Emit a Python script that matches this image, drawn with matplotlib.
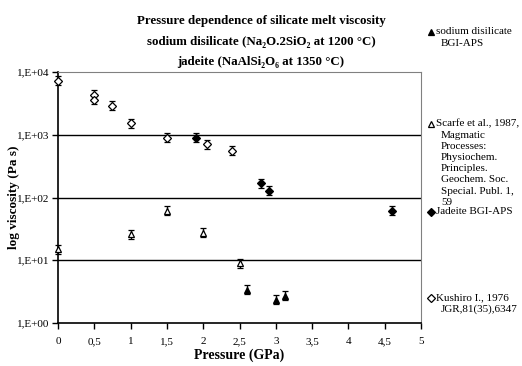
import matplotlib
matplotlib.use("Agg")
import matplotlib.pyplot as plt
from matplotlib.lines import Line2D
from matplotlib.ticker import FixedLocator, NullLocator

plt.rcParams['font.family'] = ['Liberation Serif', 'DejaVu Serif']

# Kushiro I., 1976 (open diamonds)
kushiro_p = [0, 0.5, 0.5, 0.75, 1.0, 1.5, 2.05, 2.4]
kushiro_eta = [7200, 4300, 3600, 2900, 1520, 900, 700, 560]

# Jadeite BGI-APS (filled diamonds)
jad_p = [1.9, 2.8, 2.9, 4.6]
jad_eta = [895, 168, 128, 62]

# Scarfe et al., 1987 (open triangles)
scarfe_p = [0, 1.0, 1.5, 2.0, 2.5]
scarfe_eta = [15, 26, 62, 27.5, 8.9]

# sodium disilicate BGI-APS (filled triangles)
nds_p = [2.6, 3.0, 3.12]
nds_eta = [3.4, 2.35, 2.7]

rel_err = 0.18

y_ticks = [1, 10, 100, 1000, 10000]
y_labels = ["1,E+00", "1,E+01", "1,E+02", "1,E+03", "1,E+04"]
x_ticks = [0, 0.5, 1, 1.5, 2, 2.5, 3, 3.5, 4, 4.5, 5]
x_labels = ["0", "0,5", "1", "1,5", "2", "2,5", "3", "3,5", "4", "4,5", "5"]

fig = plt.figure(figsize=(5.22, 3.66), dpi=100)
ax = fig.add_axes([58 / 522, 1 - 323 / 366, 363 / 522, 251 / 366])


def series(p, eta, marker, face):
    err = [[v * rel_err / (1 + rel_err) for v in eta], [v * rel_err for v in eta]]
    ax.errorbar(p, eta, yerr=err, fmt=marker, ms=4.2, mfc=face, mec='black',
                mew=0.9, ecolor='black', elinewidth=1, capsize=2.5, capthick=1,
                clip_on=False, zorder=3)


series(kushiro_p, kushiro_eta, 'D', 'white')
series(jad_p, jad_eta, 'D', 'black')
series(scarfe_p, scarfe_eta, '^', 'white')
series(nds_p, nds_eta, '^', 'black')

ax.set_yscale('log')
ax.set_ylim(1, 10000)
ax.set_xlim(0, 5)
ax.yaxis.set_major_locator(FixedLocator(y_ticks))
ax.yaxis.set_minor_locator(NullLocator())
ax.set_yticklabels(y_labels)
ax.set_xticks(x_ticks)
ax.set_xticklabels(x_labels)
ax.tick_params(labelsize=8, length=4, width=1, direction='out', pad=2)
ax.tick_params(axis='x', pad=6)

for v in [10, 100, 1000]:
    ax.axhline(v, color='black', lw=1, zorder=1)
ax.spines['top'].set_color('#808080')
ax.spines['right'].set_color('#808080')
ax.spines['left'].set_linewidth(1.2)
ax.spines['bottom'].set_linewidth(1.2)

ax.set_xlabel("Pressure (GPa)", fontsize=10, fontweight='bold', labelpad=2)
ax.set_ylabel("log viscosity (Pa s)", fontsize=9.5, fontweight='bold')
ax.yaxis.set_label_coords((20 - 58) / 363, 0.5)

title_lines = [
    (21, "Pressure dependence of silicate melt viscosity"),
    (42, "sodium disilicate (Na\u2082O.2SiO\u2082 at 1200 \u00b0C)"),
    (62, "jadeite (NaAlSi\u2082O\u2086 at 1350 \u00b0C)"),
]
for ypx, t in title_lines:
    fig.text(0.5, 1 - ypx / 366, t, ha='center', va='center', fontsize=9.3,
             fontweight='bold')

# legend entries spread down the right side
legend_items = [
    ('^', 'black', 32, ["sodium disilicate", "BGI-APS"]),
    ('^', 'white', 124, ["Scarfe et al., 1987,", "Magmatic", "Processes:", "Physiochem.",
                         "Principles.", "Geochem. Soc.", "Special. Publ. 1,", "59"]),
    ('D', 'black', 212, ["Jadeite BGI-APS"]),
    ('D', 'white', 298, ["Kushiro I., 1976", "JGR,81(35),6347"]),
]
for marker, face, ypx, lines in legend_items:
    fig.add_artist(Line2D([431 / 522], [1 - ypx / 366], marker=marker, ms=4.2,
                          mfc=face, mec='black', mew=0.9, ls='none',
                          transform=fig.transFigure))
    for i, t in enumerate(lines):
        x0 = 436 if i == 0 else 441
        fig.text(x0 / 522, 1 - (ypx + i * 11.2) / 366, t, ha='left', va='center',
                 fontsize=8)

fig.savefig("out.png", dpi=100)
